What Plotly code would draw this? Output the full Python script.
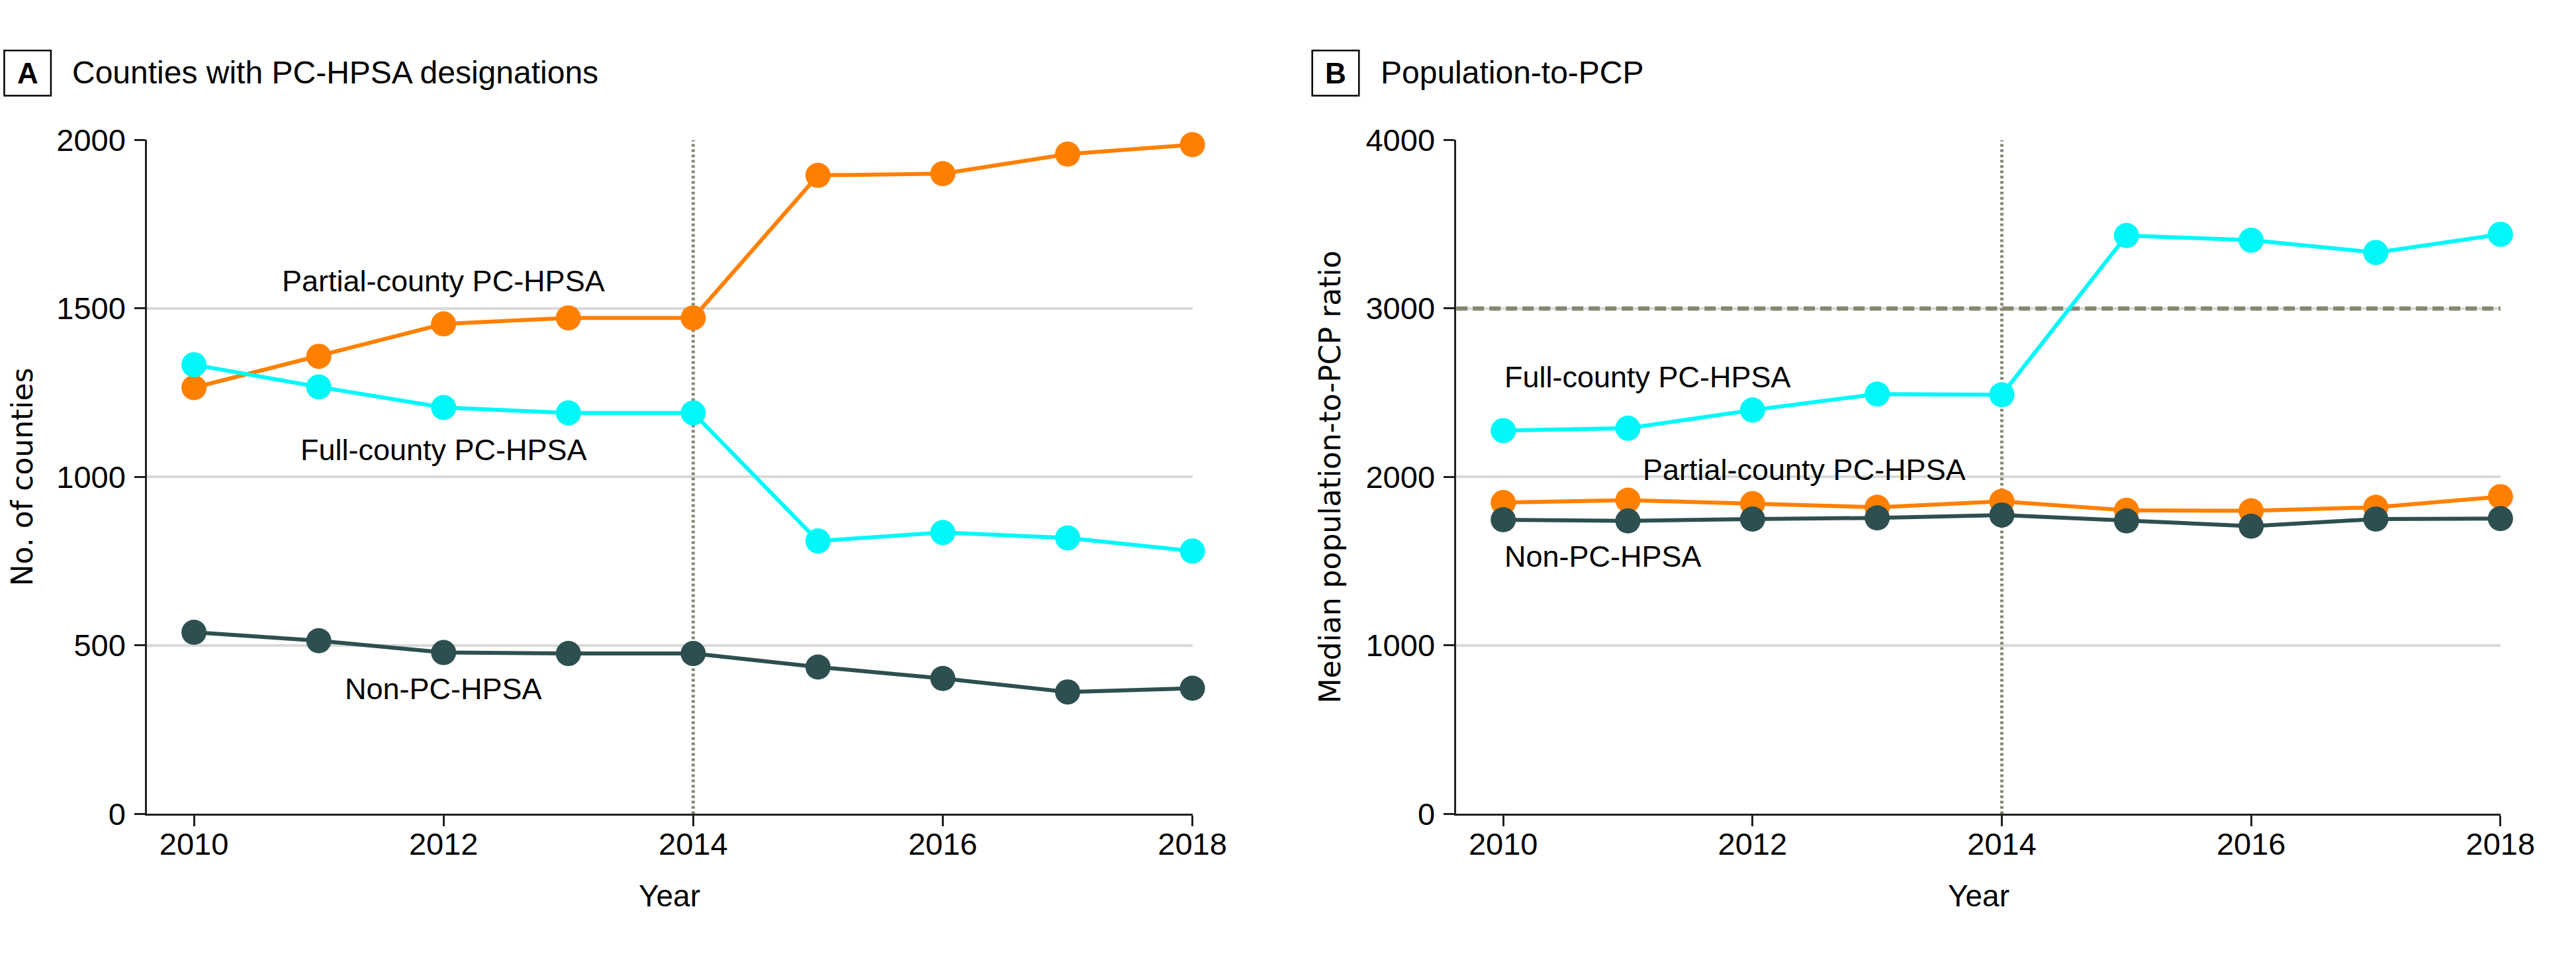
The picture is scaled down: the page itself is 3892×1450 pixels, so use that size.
import plotly.graph_objects as go

years = [2010, 2011, 2012, 2013, 2014, 2015, 2016, 2017, 2018]

# Panel A: counties with PC-HPSA designations
a_partial = [1265, 1358, 1454, 1472, 1472, 1895, 1900, 1958, 1986]
a_full = [1333, 1267, 1206, 1190, 1190, 810, 835, 819, 780]
a_non = [539, 514, 479, 476, 476, 436, 402, 362, 373]

# Panel B: median population-to-PCP ratio
b_full = [2275, 2289, 2397, 2492, 2488, 3433, 3405, 3332, 3440]
b_partial = [1848, 1862, 1841, 1820, 1855, 1802, 1799, 1820, 1883]
b_non = [1746, 1739, 1750, 1757, 1774, 1739, 1708, 1750, 1753]

x_ticks = [2010, 2012, 2014, 2016, 2018]
a_yticks = [0, 500, 1000, 1500, 2000]
b_yticks = [0, 1000, 2000, 3000, 4000]
ref_year = 2014
hpsa_threshold = 3000
x_range = [2009.623, 2018]

ORANGE = "#FF8000"
CYAN = "#00F8F8"
DARK = "#2E4F4F"
REF = "#878670"
AXIS = "#231F20"
GRID = "#D9D9D9"

TXT = "Liberation Sans, Arial, sans-serif"
TICK = "Liberation Sans, Arial, sans-serif"
YT = "DejaVu Sans, Verdana, sans-serif"

W, H = 3892, 1450
fig = go.Figure()

def px_x(p):
    return p / W

def px_y(p):
    return 1 - p / H

dom_a = [px_x(225), px_x(1826)]
dom_b = [px_x(2230), px_x(3829)]
dom_y = [px_y(1248), px_y(191.4)]

def add_series(xa, ya, vals, color):
    fig.add_trace(go.Scatter(
        x=years, y=vals, xaxis=xa, yaxis=ya, mode="lines+markers",
        line=dict(color=color, width=6), marker=dict(color=color, size=38),
        cliponaxis=False, showlegend=False, hoverinfo="skip"))

add_series("x", "y", a_partial, ORANGE)
add_series("x", "y", a_full, CYAN)
add_series("x", "y", a_non, DARK)
add_series("x2", "y2", b_partial, ORANGE)
add_series("x2", "y2", b_non, DARK)
add_series("x2", "y2", b_full, CYAN)

xcommon = dict(range=x_range, tickvals=x_ticks, showgrid=False,
               showline=True, linecolor=AXIS, linewidth=2.5, ticks="outside",
               ticklen=16, tickwidth=2.5, tickcolor=AXIS,
               tickfont=dict(family=TICK, size=47, color="black"),
               zeroline=False, ticklabelstandoff=-14)
ycommon = dict(showgrid=True, gridcolor=GRID, gridwidth=3.5,
               showline=True, linecolor=AXIS, linewidth=2.5, ticks="outside",
               ticklen=16, tickwidth=2.5, tickcolor=AXIS,
               tickfont=dict(family=TICK, size=47, color="black"),
               zeroline=False, ticklabelstandoff=4)

fig.update_layout(
    width=W, height=H, margin=dict(l=0, r=0, t=0, b=0),
    paper_bgcolor="white", plot_bgcolor="white",
    xaxis=dict(domain=dom_a, anchor="y", **xcommon),
    yaxis=dict(domain=dom_y, anchor="x", range=[0, 2000], tickvals=a_yticks, **ycommon),
    xaxis2=dict(domain=dom_b, anchor="y2", **xcommon),
    yaxis2=dict(domain=dom_y, anchor="x2", range=[0, 4000], tickvals=b_yticks, **ycommon),
)

# reference lines
fig.add_shape(type="line", xref="x", yref="y", x0=ref_year, x1=ref_year, y0=0, y1=2000,
              line=dict(color=REF, width=5, dash="4px,4px"), layer="between")
fig.add_shape(type="line", xref="x2", yref="y2", x0=ref_year, x1=ref_year, y0=0, y1=4000,
              line=dict(color=REF, width=5, dash="4px,4px"), layer="between")
fig.add_shape(type="line", xref="x2", yref="y2", x0=x_range[0], x1=x_range[1],
              y0=hpsa_threshold, y1=hpsa_threshold,
              line=dict(color=REF, width=6.5, dash="17px,8px"), layer="between")

# panel letter boxes and titles
for bx0, bx1, letter, tx, title in [(6.5, 78, "A", 108, "Counties with PC-HPSA designations"),
                                    (2009.5, 2081, "B", 2112, "Population-to-PCP")]:
    fig.add_shape(type="rect", xref="paper", yref="paper", x0=px_x(bx0), x1=px_x(bx1),
                  y0=px_y(122), y1=px_y(51), line=dict(color="black", width=2.5),
                  layer="above")
    fig.add_annotation(xref="paper", yref="paper", x=px_x((bx0 + bx1) / 2), y=px_y(87),
                       text="<b>%s</b>" % letter, showarrow=False, xanchor="center",
                       yanchor="middle", font=dict(family=TXT, size=44, color="black"))
    fig.add_annotation(xref="paper", yref="paper", x=px_x(tx), y=px_y(86), text=title,
                       showarrow=False, xanchor="left", yanchor="middle",
                       font=dict(family=TXT, size=48, color="black"))

# axis titles
for cx, txt in [(34, "No. of counties"), (2037, "Median population-to-PCP ratio")]:
    fig.add_annotation(xref="paper", yref="paper", x=px_x(cx), y=px_y(720), text=txt,
                       textangle=-90, showarrow=False, xanchor="center", yanchor="middle",
                       font=dict(family=YT, size=44, color="black"))
for cx in [1025.5, 3029.5]:
    fig.add_annotation(xref="paper", yref="paper", x=px_x(cx), y=px_y(1376), text="Year",
                       showarrow=False, xanchor="center", yanchor="middle",
                       font=dict(family=TXT, size=46, color="black"))

# series labels
lab_font = dict(family=TXT, size=45, color="black")
for xr, yr, x, y, t, anc in [
    ("x", "y", 2012, 1582, "Partial-county PC-HPSA", "center"),
    ("x", "y", 2012, 1080, "Full-county PC-HPSA", "center"),
    ("x", "y", 2012, 372, "Non-PC-HPSA", "center"),
    ("x2", "y2", 2010, 2592, "Full-county PC-HPSA", "left"),
    ("x2", "y2", 2011.11, 2042, "Partial-county PC-HPSA", "left"),
    ("x2", "y2", 2010, 1530, "Non-PC-HPSA", "left"),
]:
    fig.add_annotation(xref=xr, yref=yr, x=x, y=y, text=t, showarrow=False,
                       xanchor=anc, yanchor="middle", font=lab_font)

fig.write_html("out.html", config={"displayModeBar": False},
               post_script="document.body.style.margin='0px';"
                           "document.body.style.overflow='hidden';")
